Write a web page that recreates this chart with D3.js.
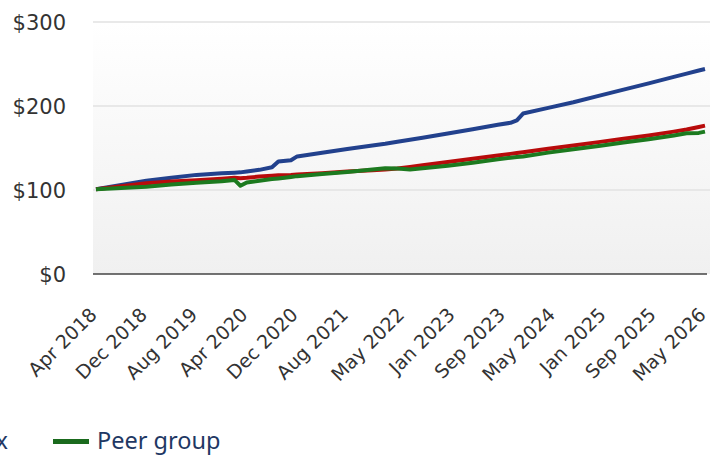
<!DOCTYPE html>
<meta charset="utf-8">
<style>
  body { margin: 0; background: #fff; }
  svg { display: block; font-family: "DejaVu Sans", sans-serif; }
</style>
<svg width="710" height="458"></svg>
<script src="https://cdn.jsdelivr.net/npm/d3@7"></script>
<script>

// monthly points
var months = ["2018-04","2018-08","2018-12","2019-04","2019-08","2019-12","2020-02","2020-03",
  "2020-04","2020-06","2020-08","2020-09","2020-11","2020-12","2021-04","2021-08","2021-12",
  "2022-02","2022-04","2022-06","2022-08","2022-12","2023-04","2023-08","2023-10","2023-11",
  "2023-12","2024-04","2024-08","2024-12","2025-04","2025-08","2025-12","2026-02","2026-04","2026-05"];

var fund = [101,106,111,114.5,118,120,120.6,121,122,124,127,134,135.5,140,144.4,148.7,153,
  155,157.5,159.8,162.1,167.3,172.4,177.6,180,183,191,197.8,204.4,212,219.5,227,234.7,238.5,242.2,244];

var index = [101,104.5,108,110,111.5,113.5,114.5,114,114.5,116,117,117.5,118,118.5,120,122,123.5,
  124.5,125.5,127.5,129.5,133.4,137.3,141.2,143,144,145,149,153,157,161,165,169.5,172,175,176.6];

var peer = [101,102.5,104,106.5,108.5,110.5,112,105,109,111,113,113.8,115.5,116.5,119,121.5,124.5,
  126,125.5,124.5,126,129,132.5,136.5,138.5,139.2,140,144.5,148.5,152.5,156.5,160.5,165,167.5,168,169.5];

var seriesNames = ["Fund", "Index", "Peer group"];
var tickMonths = ["2018-04","2018-12","2019-08","2020-04","2020-12","2021-08","2022-05",
  "2023-01","2023-09","2024-05","2025-01","2025-09","2026-05"];
var yTicks = [0, 100, 200, 300];

var svg = d3.select("svg");
var parse = d3.timeParse("%Y-%m");
var colors = ["#22418d", "#b80b0b", "#1c7a1f"];

var x = d3.scaleTime()
    .domain([parse("2018-04"), parse("2026-05")])
    .range([96, 705]);

var y = d3.scaleLinear()
    .domain([0, 300])
    .range([274, 22]);

// plot background gradient
var grad = svg.append("defs").append("linearGradient")
    .attr("id", "bg").attr("x1", 0).attr("y1", 0).attr("x2", 0).attr("y2", 1);
grad.append("stop").attr("offset", "0%").attr("stop-color", "#ffffff");
grad.append("stop").attr("offset", "100%").attr("stop-color", "#f0f0f0");

svg.append("rect")
    .attr("x", 93).attr("y", y(300))
    .attr("width", 617).attr("height", y(0) - y(300))
    .attr("fill", "url(#bg)");

// grid + y labels
svg.append("g").selectAll("line")
  .data(yTicks.filter(function(d) { return d > 0; }))
  .enter().append("line")
    .attr("x1", 93).attr("x2", 710)
    .attr("y1", function(d) { return y(d); })
    .attr("y2", function(d) { return y(d); })
    .attr("stroke", "#e2e2e2").attr("stroke-width", 1.5);

svg.append("line")
    .attr("x1", 93).attr("x2", 707)
    .attr("y1", y(0)).attr("y2", y(0))
    .attr("stroke", "#444").attr("stroke-width", 1.5);

svg.append("g").selectAll("text")
  .data(yTicks)
  .enter().append("text")
    .attr("x", 66)
    .attr("y", function(d) { return y(d); })
    .attr("dy", "0.36em")
    .attr("text-anchor", "end")
    .attr("font-size", 21)
    .attr("fill", "#333")
    .text(function(d) { return "$" + d; });

// x labels
var fmt = d3.timeFormat("%b %Y");
svg.append("g").selectAll("text")
  .data(tickMonths.map(parse))
  .enter().append("text")
    .attr("transform", function(d) { return "translate(" + (x(d) + 2) + ",316) rotate(-45)"; })
    .attr("text-anchor", "end")
    .attr("font-size", 19)
    .attr("fill", "#333")
    .text(fmt);

// lines
var dates = months.map(parse);
var line = d3.line()
    .x(function(d, i) { return x(dates[i]); })
    .y(function(d) { return y(d); });

svg.append("g").selectAll("path")
  .data([fund, index, peer])
  .enter().append("path")
    .attr("d", line)
    .attr("fill", "none")
    .attr("stroke", function(d, i) { return colors[i]; })
    .attr("stroke-width", 4)
    .attr("stroke-linejoin", "round");

// legend (runs off the left edge like the original)
var legend = svg.append("g")
    .attr("font-family", "'Noto Sans', sans-serif")
    .attr("font-size", 23.5)
    .attr("fill", "#1f3864");
var items = legend.selectAll("g")
  .data(seriesNames)
  .enter().append("g");

items.append("rect")
    .attr("x", 0).attr("y", -2.5)
    .attr("width", 36).attr("height", 5)
    .attr("fill", function(d, i) { return ["#22418d", "#b80b0b", "#1a6a1d"][i]; });

items.append("text")
    .attr("x", 44).attr("dy", "0.33em")
    .text(function(d) { return d; });

var pos = 0, offsets = [];
items.each(function(d, i) {
  offsets.push(pos);
  pos += 44 + this.querySelector("text").getComputedTextLength() + 45;
});
var shift = 53 - offsets[2];
items.attr("transform", function(d, i) { return "translate(" + (offsets[i] + shift) + ",441.5)"; });

</script>
